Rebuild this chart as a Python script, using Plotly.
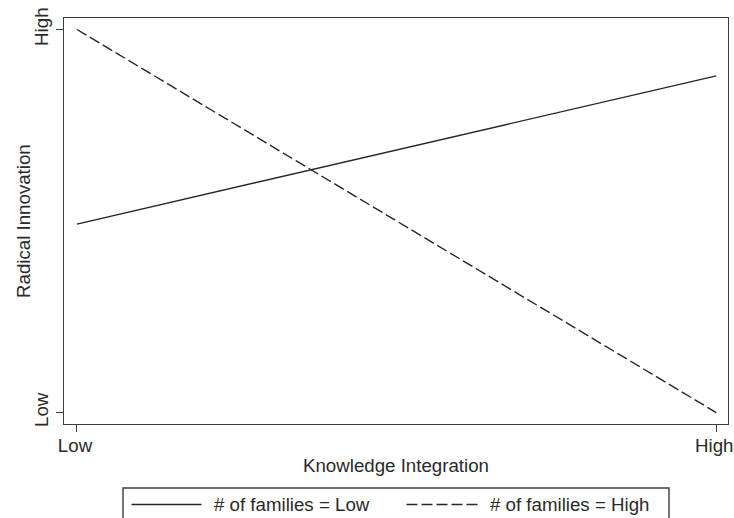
import plotly.graph_objects as go

# Interaction plot: predicted radical innovation at low/high knowledge integration
x_levels = [0, 1]
x_ticktext = ["Low", "High"]
y_ticktext = ["Low", "High"]
series_names = ["# of families = Low", "# of families = High"]
families_low = [0.492, 0.879]
families_high = [1.0, 0.0]

W, H = 734, 518
L, R, T, B = 64, 6, 18, 94
plot_w = W - L - R
plot_h = H - T - B

INK = "#262626"
FRAME = "#3c3c3c"
FONT = dict(family="Liberation Sans, Arial, Helvetica, sans-serif", size=18.7, color="#2a2a2a")


def px_to_paper(x, y):
    return (x - L) / plot_w, (H - B - y) / plot_h


fig = go.Figure()
fig.add_trace(go.Scatter(x=x_levels, y=families_low, mode="lines",
                         line=dict(color=INK, width=1.4), name=series_names[0],
                         showlegend=False))
fig.add_trace(go.Scatter(x=x_levels, y=families_high, mode="lines",
                         line=dict(color=INK, width=1.4, dash="11px,4px"),
                         name=series_names[1], showlegend=False))

axis_common = dict(showgrid=False, zeroline=False, showline=True, mirror=True,
                   linecolor=FRAME, linewidth=1.4, ticks="outside", ticklen=7,
                   tickwidth=1.3, tickcolor=FRAME, tickfont=FONT,
                   ticklabeloverflow="allow")

fig.update_xaxes(range=[-0.0203, 1.0183], tickvals=x_levels, ticktext=x_ticktext,
                 ticklabelshift=-2, ticklabelstandoff=-3,
                 title=dict(text="Knowledge Integration", font=FONT, standoff=4),
                 **axis_common)
fig.update_yaxes(range=[-0.0298, 1.030], tickvals=[0, 1], ticktext=y_ticktext,
                 tickangle=-90, **axis_common)

# Legend box drawn below the plot, running off the bottom edge
x0, y0 = px_to_paper(123, 488)
x1, y1 = px_to_paper(669, 540)
shapes = [dict(type="rect", xref="paper", yref="paper", x0=x0, y0=y1, x1=x1, y1=y0,
               line=dict(color=FRAME, width=1.4), fillcolor="rgba(0,0,0,0)")]
ly = px_to_paper(0, 504.5)[1]
sx0 = px_to_paper(131.5, 0)[0]
sx1 = px_to_paper(201.5, 0)[0]
dx0 = px_to_paper(406.5, 0)[0]
dx1 = px_to_paper(478, 0)[0]
shapes.append(dict(type="line", xref="paper", yref="paper", x0=sx0, x1=sx1, y0=ly, y1=ly,
                   line=dict(color=INK, width=1.4)))
shapes.append(dict(type="line", xref="paper", yref="paper", x0=dx0, x1=dx1, y0=ly, y1=ly,
                   line=dict(color=INK, width=1.4, dash="11px,4px")))

annotations = [
    dict(xref="paper", yref="paper", x=px_to_paper(212, 0)[0], y=ly, text=series_names[0],
         showarrow=False, xanchor="left", yanchor="middle", font=FONT),
    dict(xref="paper", yref="paper", x=px_to_paper(488, 0)[0], y=ly, text=series_names[1],
         showarrow=False, xanchor="left", yanchor="middle", font=FONT),
    # y-axis title
    dict(xref="paper", yref="paper", x=px_to_paper(23, 0)[0], y=0.5,
         text="Radical Innovation", textangle=-90, showarrow=False,
         xanchor="center", yanchor="middle", font=FONT),
]

fig.update_layout(width=W, height=H, margin=dict(l=L, r=R, t=T, b=B, autoexpand=False),
                  paper_bgcolor="white", plot_bgcolor="white",
                  shapes=shapes, annotations=annotations, showlegend=False)

fig.write_html("out.html")
